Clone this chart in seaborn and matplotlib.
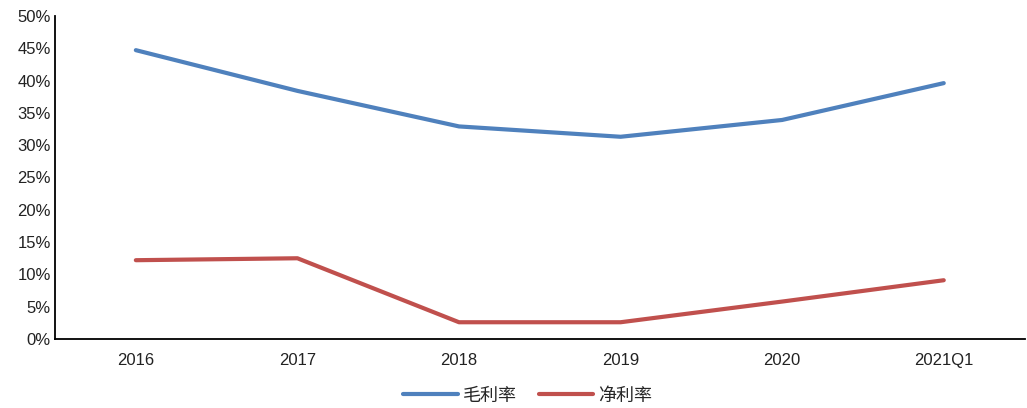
import pandas as pd
import numpy as np
import matplotlib.pyplot as plt
import seaborn as sns

years = ['2016', '2017', '2018', '2019', '2020', '2021Q1']
gross_margin = [44.7, 38.4, 32.9, 31.3, 33.9, 39.6]
net_margin = [12.2, 12.5, 2.6, 2.6, 5.8, 9.1]
series_names = ['毛利率', '净利率']

sns.set_style('white')
plt.rcParams['font.family'] = ['Noto Sans CJK SC', 'DejaVu Sans']

df = pd.DataFrame({
    'pos': list(range(len(years))) * 2,
    'value': gross_margin + net_margin,
    'series': [series_names[0]] * len(years) + [series_names[1]] * len(years),
})

fig = plt.figure(figsize=(10.27, 4.08), dpi=100)
ax = fig.add_axes([0.0536, 0.169, 0.944, 0.792])
sns.lineplot(data=df, x='pos', y='value', hue='series', sort=False,
             palette=['#4F81BD', '#C0504D'], linewidth=3, ax=ax)

lab_font = ['Liberation Sans', 'DejaVu Sans']
ax.set_xlim(-0.5, len(years) - 0.5)
ax.set_ylim(0, 50)
ax.set_yticks(np.arange(0, 51, 5))
ax.set_yticklabels([f'{v}%' for v in range(0, 51, 5)], fontsize=12, color='#222222', family=lab_font)
ax.set_xticks(range(len(years)))
ax.set_xticklabels(years, fontsize=12, color='#222222', family=lab_font)
ax.set_xticks(np.arange(0.5, len(years) - 1, 1), minor=True)
ax.tick_params(axis='x', which='major', length=0, pad=10)
ax.tick_params(axis='x', which='minor', direction='in', length=5, width=1.2, color='black')
ax.tick_params(axis='y', direction='in', length=5, width=1.2, color='black', pad=3)
ax.set_xlabel('')
ax.set_ylabel('')
for s in ['top', 'right']:
    ax.spines[s].set_visible(False)
for s in ['left', 'bottom']:
    ax.spines[s].set_color('black')
    ax.spines[s].set_linewidth(1.3)

ax.legend(loc='center', bbox_to_anchor=(0.514, 0.03), bbox_transform=fig.transFigure,
          ncol=2, frameon=False, fontsize=13, handlelength=3.0, columnspacing=1.2,
          handletextpad=0.3, borderpad=0)

fig.savefig('out.png', dpi=100)
